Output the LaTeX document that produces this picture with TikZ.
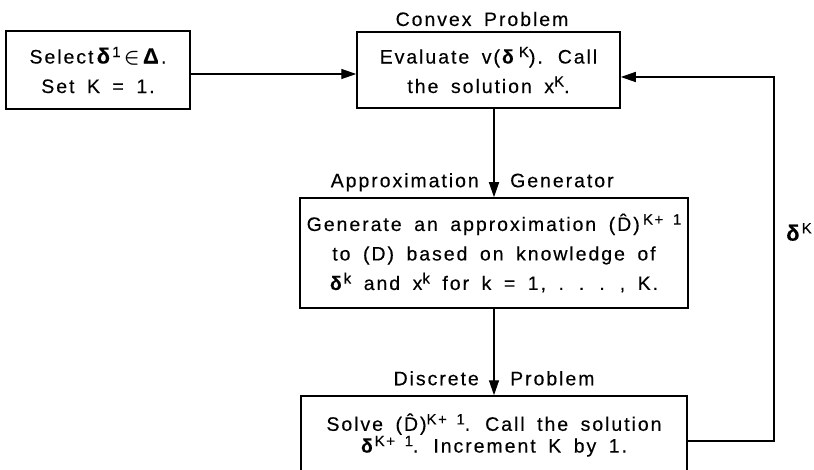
\documentclass[tikz,border=0pt]{standalone}
\usepackage{amsmath,amssymb}
\usepackage{fontspec}
\setmainfont{Liberation Sans}[LetterSpace=10,WordSpace=1.7,FakeBold=0.3]
\usetikzlibrary{arrows.meta,positioning,calc}
\tikzset{
  blk/.style  = { draw, line width=1.5pt, align=center, inner sep=0pt,
    font=\fontsize{19.5}{29.5}\selectfont },
  lbl/.style  = { inner sep=0pt, font=\fontsize{19.5}{20}\selectfont },
  flow/.style = { -{Triangle[length=15pt,width=10pt]}, line width=1.4pt }
}
\newcommand{\dk}{\textbf{δ}}
\newcommand{\Dh}{(\^{D})}
\newcommand{\sps}[1]{\raisebox{0.62ex}{\fontsize{15}{15}\selectfont #1}}

\begin{document}
\begin{tikzpicture}[x=1pt,y=-1pt]
  \useasboundingbox (0,0) rectangle (814,470);
  % boxes
  \node[blk, minimum width=184pt, minimum height=78pt] (init) at (98,70)
    {Select\,{\fontsize{22}{22}\selectfont\dk}\sps{1}\,$\boldsymbol{\in}$\,{\fontsize{22}{22}\selectfont\textbf{Δ}}.\\ Set K = 1.};
  \node[blk, minimum width=263pt, minimum height=76pt] (eval) at (488.5,70)
    {Evaluate v(\dk\,\sps{K}). Call\\ the solution x\sps{K}.};
  \node[blk, minimum width=388pt, minimum height=110pt] (gen) at (494,253)
    {Generate an approximation \Dh\,\sps{K+ 1}\\
     to (D) based on knowledge of\\
     \dk\sps{k} and x\sps{k} for k = 1, . . . , K.};
  \node[blk, minimum width=386pt, minimum height=78pt,
    font=\fontsize{19.5}{20}\selectfont] (solve) at (494,435)
    {Solve \Dh\sps{K+ 1}. Call the solution\\
     \dk\sps{K+ 1}. Increment K by 1.};
  % labels
  \node[lbl, anchor=base] (cvx) at (482,26) {Convex Problem};
  \node[lbl, anchor=base east] (appr) at ($(gen.north)+(-15,-10)$) {Approximation};
  \node[lbl, anchor=base west] (gnr) at ($(gen.north)+(16,-10)$) {Generator};
  \node[lbl, anchor=base east] (disc) at ($(solve.north)+(-15,-10)$) {Discrete};
  \node[lbl, anchor=base west] (prob) at ($(solve.north)+(16,-10)$) {Problem};
  \node[lbl, font=\fontsize{22}{22}\selectfont] (dlbl) at (799,232) {\dk\sps{K}};
  % connectors
  \coordinate (c0) at (0,74);
  \coordinate (c1) at (774,441);
  \coordinate (c2) at (774,77);
  \draw[flow] (init.east |- c0) -- (eval.west |- c0);
  \draw[flow] (gen.north |- eval.south) -- (gen.north);
  \draw[flow] (gen.south) -- (solve.north);
  \draw[flow] (solve.east |- c1) -- (c1) -- (c2) -- (eval.east |- c2);
\end{tikzpicture}
\end{document}
